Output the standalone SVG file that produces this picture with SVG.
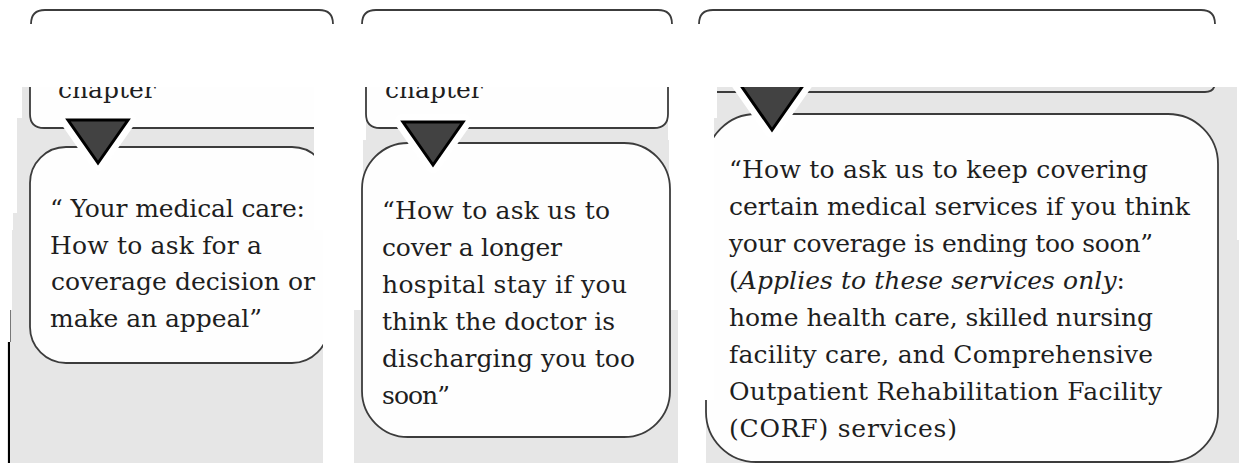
<svg xmlns="http://www.w3.org/2000/svg" width="1239" height="463" viewBox="0 0 1239 463">
<style>
.bg{fill:#e6e6e6}
.edge{fill:none;stroke:#3c3c3c;stroke-width:1.8}
.box{fill:#fefefe;stroke:#3c3c3c;stroke-width:1.8}
.wf{fill:#fefefe}
.t{font-family:"DejaVu Serif","Liberation Serif",serif;font-size:25px;fill:#1e1e1e}
.i{font-style:italic}
.halo{fill:#fff;stroke:#fff;stroke-width:16;stroke-linejoin:round}
.tri{fill:#424242;stroke:#000;stroke-width:3;stroke-linejoin:miter}
</style>
<defs>
<clipPath id="below87"><rect x="0" y="87" width="1239" height="376"/></clipPath>
<clipPath id="clip1"><rect x="0" y="0" width="314" height="230"/><rect x="0" y="230" width="323" height="233"/></clipPath>
<clipPath id="clip3"><rect x="714" y="0" width="525" height="463"/><rect x="0" y="400" width="1239" height="63"/></clipPath>
</defs>

<g id="backgrounds">
<rect class="bg" x="22" y="87" width="292" height="31"/>
<rect class="bg" x="17" y="118" width="297" height="95"/>
<rect class="bg" x="13" y="213" width="301" height="17"/>
<rect class="bg" x="12" y="230" width="311" height="80"/>
<rect class="bg" x="11" y="310" width="312" height="153"/>
<rect class="bg" x="366" y="95" width="302" height="50"/>
<rect class="bg" x="363" y="140" width="306" height="60"/>
<rect class="bg" x="354" y="310" width="324" height="153"/>
<rect class="bg" x="717" y="87" width="520" height="31"/>
<rect class="bg" x="714" y="118" width="523" height="345"/>
<rect class="bg" x="706" y="400" width="531" height="63"/>
<rect class="bg" x="1218" y="240" width="21" height="223"/>
<line x1="10.5" y1="310" x2="10.5" y2="342" stroke="#777" stroke-width="1"/>
<line x1="9" y1="342" x2="9" y2="463" stroke="#000" stroke-width="2.2"/>
</g>

<g id="node-col1-top">
<path class="edge" d="M31,24 Q31,10 45,10 L319,10 Q333,10 333,24"/>
<path class="wf" d="M30,87 L30,114 Q30,128 44,128 L314,128 L314,87 Z"/>
<path class="edge" d="M30,87 L30,114 Q30,128 44,128 L314,128"/>
<text class="t" x="58" y="98" clip-path="url(#below87)">chapter</text>
</g>

<g id="node-col1-bottom">
<path class="box" clip-path="url(#clip1)" d="M66,147 H292 A36,36 0 0 1 328,183 V327 A36,36 0 0 1 292,363 H66 A36,36 0 0 1 30,327 V183 A36,36 0 0 1 66,147 Z"/>
<text class="t" x="50" y="217" textLength="255" lengthAdjust="spacing">“ Your medical care:</text>
<text class="t" x="50" y="254" textLength="212" lengthAdjust="spacing">How to ask for a</text>
<text class="t" x="51" y="290" textLength="264" lengthAdjust="spacing">coverage decision or</text>
<text class="t" x="50" y="327" textLength="212" lengthAdjust="spacing">make an appeal”</text>
</g>

<g id="node-col2-top">
<path class="edge" d="M362,24 Q362,10 376,10 L658,10 Q672,10 672,24"/>
<path class="wf" d="M366,87 L366,114 Q366,128 380,128 L654,128 Q668,128 668,114 L668,87 Z"/>
<path class="edge" d="M366,87 L366,114 Q366,128 380,128 L654,128 Q668,128 668,114 L668,87"/>
<text class="t" x="385" y="98" clip-path="url(#below87)">chapter</text>
</g>

<g id="node-col2-bottom">
<path class="box" d="M408,143 H624 A46,46 0 0 1 670,189 V391 A46,46 0 0 1 624,437 H408 A46,46 0 0 1 362,391 V189 A46,46 0 0 1 408,143 Z"/>
<text class="t" x="382" y="219" textLength="228" lengthAdjust="spacing">“How to ask us to</text>
<text class="t" x="382" y="256" textLength="180" lengthAdjust="spacing">cover a longer</text>
<text class="t" x="382" y="293" textLength="245" lengthAdjust="spacing">hospital stay if you</text>
<text class="t" x="382" y="330" textLength="233" lengthAdjust="spacing">think the doctor is</text>
<text class="t" x="382" y="367" textLength="253" lengthAdjust="spacing">discharging you too</text>
<text class="t" x="382" y="404" textLength="68" lengthAdjust="spacing">soon”</text>
</g>

<g id="node-col3-top">
<path class="edge" d="M699,24 Q699,10 713,10 L1201,10 Q1215,10 1215,24"/>
<path class="edge" clip-path="url(#below87)" d="M717,92 L1205,92 Q1215,92 1215,82"/>
</g>

<g id="node-col3-bottom">
<path class="box" clip-path="url(#clip3)" d="M756,114 H1168 A50,50 0 0 1 1218,164 V412 A50,50 0 0 1 1168,462 H756 A50,50 0 0 1 706,412 V164 A50,50 0 0 1 756,114 Z"/>
<text class="t" x="729" y="178" textLength="419" lengthAdjust="spacing">“How to ask us to keep covering</text>
<text class="t" x="729" y="215" textLength="461" lengthAdjust="spacing">certain medical services if you think</text>
<text class="t" x="729" y="252" textLength="424" lengthAdjust="spacing">your coverage is ending too soon”</text>
<text class="t" x="729" y="289" textLength="396" lengthAdjust="spacing">(<tspan class="i">Applies to these services only</tspan>:</text>
<text class="t" x="729" y="326" textLength="424" lengthAdjust="spacing">home health care, skilled nursing</text>
<text class="t" x="729" y="363" textLength="424" lengthAdjust="spacing">facility care, and Comprehensive</text>
<text class="t" x="729" y="400" textLength="433" lengthAdjust="spacing">Outpatient Rehabilitation Facility</text>
<text class="t" x="729" y="437" textLength="228" lengthAdjust="spacing">(CORF) services)</text>
</g>

<g id="connectors">
<polygon class="halo" points="68,120 128,120 98,163"/>
<polygon class="tri" points="68,120 128,120 98,163"/>
<polygon class="halo" points="403,122 463,122 433,165"/>
<polygon class="tri" points="403,122 463,122 433,165"/>
<polygon class="halo" clip-path="url(#below87)" points="738.5,82 805.5,82 772,130"/>
<polygon class="tri" clip-path="url(#below87)" points="738.5,82 805.5,82 772,130"/>
</g>
</svg>
